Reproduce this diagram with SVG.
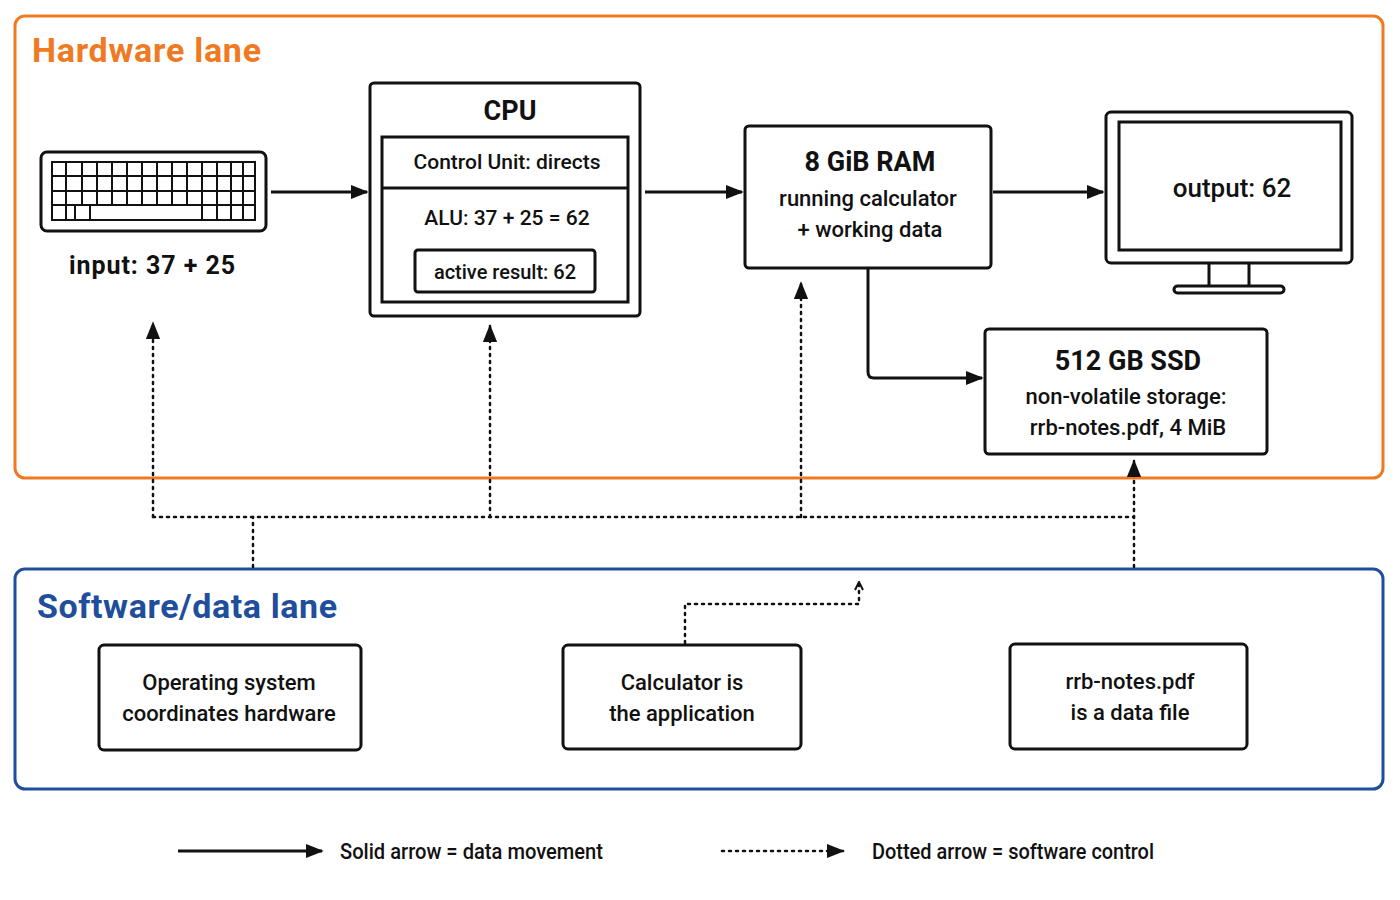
<svg xmlns="http://www.w3.org/2000/svg" width="1400" height="900" viewBox="0 0 1400 900">
<style>
text{font-family:"Roboto","Liberation Sans",sans-serif;fill:#111;font-weight:500}
.box{fill:#fff;stroke:#111;stroke-width:3}
.t{font-size:22px;text-anchor:middle}
.h{font-size:27px;font-weight:bold;text-anchor:middle}
.s{stroke:#111;stroke-width:3;fill:none}
.d{stroke:#111;stroke-width:2.5;fill:none;stroke-dasharray:2 5;stroke-linecap:round}
.k{stroke:#111;stroke-width:2;fill:none}
</style>
<defs>
<marker id="b" viewBox="0 0 10 10" refX="9" refY="5" markerWidth="18" markerHeight="18" orient="auto" markerUnits="userSpaceOnUse"><path d="M0,1 L10,5 L0,9 z" fill="#111"/></marker>
<marker id="c" viewBox="0 0 10 10" refX="9" refY="5" markerWidth="10" markerHeight="10" orient="auto" markerUnits="userSpaceOnUse"><path d="M1,1 L9,5 L1,9" fill="none" stroke="#111" stroke-width="2"/></marker>
</defs>
<rect width="1400" height="900" fill="#fff"/>
<g id="hardware-lane"><rect x="15" y="16" width="1368" height="462" rx="10" fill="none" stroke="#F07A22" stroke-width="3"/><text x="32" y="62" textLength="229" style="font-size:34px;font-weight:bold;fill:#F07A22">Hardware lane</text></g>
<g id="software-lane"><rect x="15" y="569" width="1368" height="220" rx="10" fill="none" stroke="#1F4E9C" stroke-width="3"/><text x="37" y="618" textLength="300" style="font-size:34px;font-weight:bold;fill:#1F4E9C">Software/data lane</text></g>
<g id="keyboard">
<rect x="41" y="152" width="225" height="79" rx="6" class="box"/>
<rect x="52" y="162" width="203" height="58" class="k"/>
<path class="k" d="M52,176H255M52,191H255M52,205H255M66,162V220M82,162V205M97,162V205M112,162V205M127,162V205M142,162V205M157,162V205M172,162V205M187,162V205M202,162V220M217,162V220M231,162V220M243,162V220M75,205V220M90,205V220"/>
<text x="152" y="274" textLength="166" style="font-size:25px;font-weight:bold;text-anchor:middle">input: 37 + 25</text>
</g>
<g id="cpu">
<rect x="370" y="83" width="270" height="233" rx="4" class="box"/>
<text x="510" y="120" class="h">CPU</text>
<rect x="382" y="137" width="246" height="165" class="box" stroke-width="2.5"/>
<line x1="382" y1="188" x2="628" y2="188" class="s" stroke-width="2.5"/>
<text x="507" y="169" class="t" style="font-size:21px">Control Unit: directs</text>
<text x="507" y="225" class="t" style="font-size:21px">ALU: 37 + 25 = 62</text>
<rect x="415" y="250" width="180" height="42" rx="3" class="box" stroke-width="2.5"/>
<text x="505" y="279" class="t" style="font-size:20px">active result: 62</text>
</g>
<g id="ram">
<rect x="745" y="126" width="246" height="142" rx="4" class="box"/>
<text x="870" y="171" class="h">8 GiB RAM</text>
<text x="868" y="206" class="t">running calculator</text>
<text x="870" y="237" class="t">+ working data</text>
</g>
<g id="monitor">
<rect x="1106" y="112" width="246" height="151" rx="5" class="box"/>
<rect x="1119" y="122" width="222" height="128" class="box" stroke-width="2.5"/>
<path class="s" d="M1209,263V287M1249,263V287"/>
<rect x="1174" y="286" width="110" height="7" rx="3.5" class="box" stroke-width="2.5"/>
<text x="1232" y="197" class="t" style="font-size:26px">output: 62</text>
</g>
<g id="ssd">
<rect x="985" y="329" width="282" height="125" rx="4" class="box"/>
<text x="1128" y="370" class="h">512 GB SSD</text>
<text x="1126" y="404" class="t">non-volatile storage:</text>
<text x="1128" y="435" class="t">rrb-notes.pdf, 4 MiB</text>
</g>
<g id="os"><rect x="99" y="645" width="262" height="105" rx="5" class="box"/><text x="229" y="690" class="t">Operating system</text><text x="229" y="721" class="t">coordinates hardware</text></g>
<g id="calculator"><rect x="563" y="645" width="238" height="104" rx="5" class="box"/><text x="682" y="690" class="t">Calculator is</text><text x="682" y="721" class="t">the application</text></g>
<g id="datafile"><rect x="1010" y="644" width="237" height="105" rx="5" class="box"/><text x="1130" y="689" class="t">rrb-notes.pdf</text><text x="1130" y="720" class="t">is a data file</text></g>
<g id="connectors">
<path class="s" d="M271,192H367" marker-end="url(#b)"/>
<path class="s" d="M645,192H742" marker-end="url(#b)"/>
<path class="s" d="M993,192H1103" marker-end="url(#b)"/>
<path class="s" d="M868,268V372Q868,378 874,378H982" marker-end="url(#b)"/>
<path class="d" d="M153,517H1134"/>
<path class="d" d="M153,517V323" marker-end="url(#b)"/>
<path class="d" d="M490,517V326" marker-end="url(#b)"/>
<path class="d" d="M801,517V283" marker-end="url(#b)"/>
<path class="d" d="M1134,567V461" marker-end="url(#b)"/>
<path class="d" d="M253,567V517"/>
<path class="d" d="M685,643V604H859V582" marker-end="url(#c)"/>
</g>
<g id="legend">
<path class="s" d="M178,851H322" marker-end="url(#b)"/>
<text x="340" y="859" textLength="263" lengthAdjust="spacingAndGlyphs" style="font-size:22px">Solid arrow = data movement</text>
<path class="d" d="M722,851H843" marker-end="url(#b)"/>
<text x="872" y="859" textLength="282" lengthAdjust="spacingAndGlyphs" style="font-size:22px">Dotted arrow = software control</text>
</g>
</svg>
